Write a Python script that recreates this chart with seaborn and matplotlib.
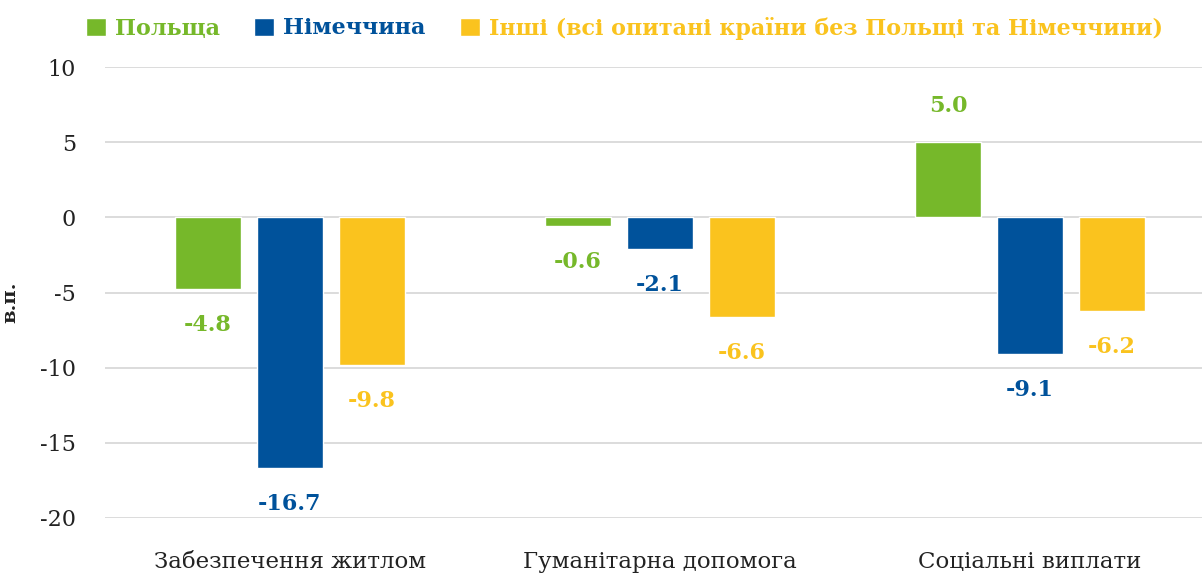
import matplotlib
matplotlib.use("Agg")
import matplotlib.pyplot as plt
import seaborn as sns
import pandas as pd

categories = ["Забезпечення житлом", "Гуманітарна допомога", "Соціальні виплати"]
series_names = ["Польща", "Німеччина", "Інші (всі опитані країни без Польщі та Німеччини)"]
poland = [-4.8, -0.6, 5.0]
germany = [-16.7, -2.1, -9.1]
others = [-9.8, -6.6, -6.2]
colors = ["#76b82a", "#00529b", "#fac31e"]
yticks = [10, 5, 0, -5, -10, -15, -20]

sns.set_theme(style="white")
plt.rcParams['font.family'] = ['DejaVu Serif']

rows = []
for name, vals in zip(series_names, [poland, germany, others]):
    for c, v in zip(categories, vals):
        rows.append({"cat": c, "series": name, "value": v})
df = pd.DataFrame(rows)

fig = plt.figure(figsize=(12.02, 5.76), dpi=100)
ax = fig.add_axes([105/1202, 1-518/576, 1-105/1202, (518-67)/576])

sns.barplot(data=df, x="cat", y="value", hue="series", order=categories,
            hue_order=series_names, palette=colors, width=0.665, gap=0.206,
            saturation=1, ax=ax, legend=True)

ax.set_ylim(-20, 10)
ax.set_xlim(-0.5, 2.465)
ax.set_yticks(yticks)
ax.set_yticklabels([str(t) for t in yticks], fontsize=16, color="#222222")
ax.tick_params(axis="x", labelsize=16.5, colors="#222222", length=0, pad=24)
ax.tick_params(axis="y", length=0, pad=21)
ax.set_xlabel("")
ax.set_ylabel("в.п.", fontsize=14, fontweight="bold", color="#222222")
ax.yaxis.set_label_coords(-(105-19)/1097, 0.478)
ax.yaxis.grid(True, color="#d9d9d9", linewidth=1.3)
ax.set_axisbelow(True)
for s in ax.spines.values():
    s.set_visible(False)

for cont, col in zip(ax.containers, colors):
    ax.bar_label(cont, fmt="%.1f", padding=18, color=col, fontsize=16, fontweight="bold")

handles, labels = ax.get_legend_handles_labels()
ax.get_legend().remove()
leg = fig.legend(handles, labels, loc="center left", bbox_to_anchor=(86/1202, 1-28/576),
                 ncol=3, frameon=False, prop={"size": 16, "weight": "bold"},
                 handlelength=0.9, handleheight=0.9, handletextpad=0.4, columnspacing=1.55,
                 borderaxespad=0, borderpad=0)
for t, col in zip(leg.get_texts(), colors):
    t.set_color(col)

fig.savefig("out.png", dpi=100)
